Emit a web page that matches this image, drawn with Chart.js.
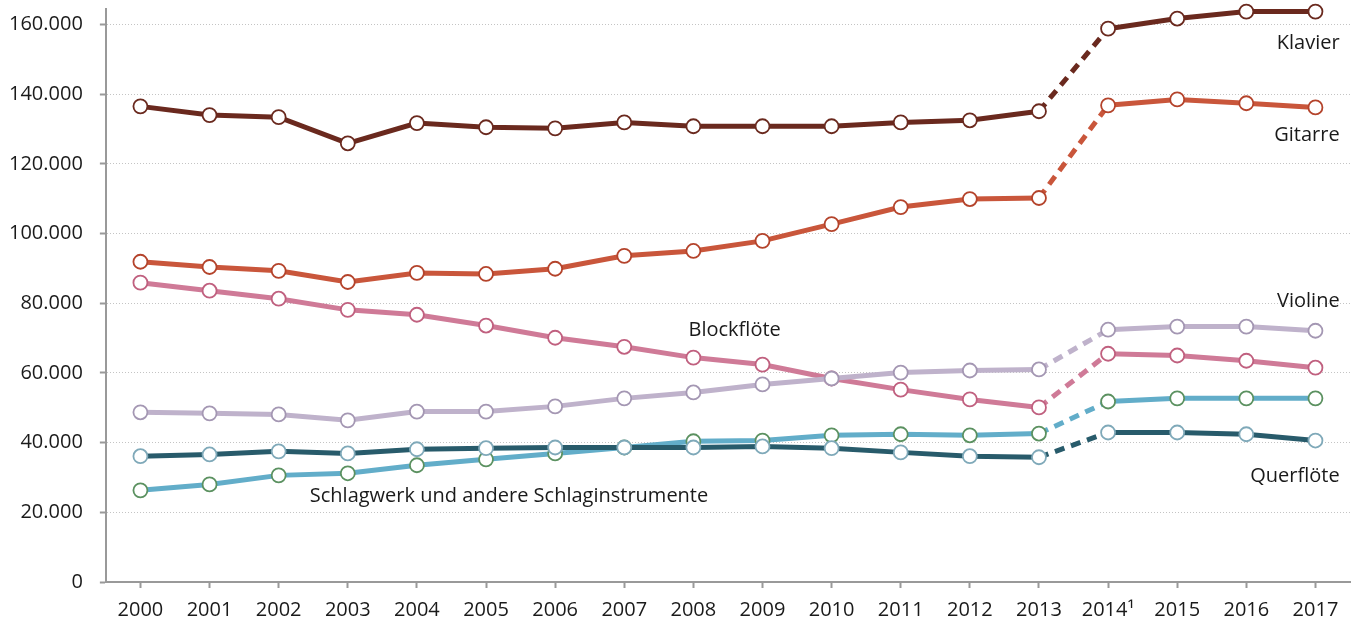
<!DOCTYPE html>
<html>
<head>
<meta charset="utf-8">
<script src="https://cdn.jsdelivr.net/npm/chart.js@4.4.1/dist/chart.umd.min.js"></script>
<style>
  html, body { margin: 0; padding: 0; background: #fff; }
  #wrap { width: 1362px; height: 623px; }
</style>
</head>
<body>
<div id="wrap"><canvas id="chartCanvas" width="1362" height="623"></canvas></div>
<script>
const years = ["2000", "2001", "2002", "2003", "2004", "2005", "2006", "2007", "2008",
    "2009", "2010", "2011", "2012", "2013", "2014\u00b9", "2015", "2016", "2017"];

const klavier = [136500, 134000, 133400, 125900, 131700, 130500, 130200, 131900, 130800,
    130800, 130800, 131900, 132500, 135100, 158800, 161700, 163700, 163700];
const gitarre = [91900, 90400, 89300, 86100, 88700, 88400, 89900, 93600, 95000,
    97900, 102700, 107600, 109900, 110200, 136800, 138500, 137400, 136200];
const blockfloete = [85900, 83600, 81300, 78100, 76700, 73600, 70100, 67500, 64400,
    62400, 58400, 55200, 52400, 50100, 65500, 65000, 63500, 61500];
const violine = [48700, 48400, 48100, 46400, 48900, 48900, 50400, 52700, 54400,
    56700, 58400, 60100, 60700, 61000, 72400, 73300, 73300, 72100];
const querfloete = [36100, 36600, 37500, 36900, 38100, 38400, 38600, 38600, 38600,
    38900, 38400, 37200, 36100, 35800, 42900, 42900, 42400, 40600];
const schlagwerk = [26300, 28000, 30600, 31200, 33500, 35200, 36900, 38600, 40400,
    40600, 42100, 42400, 42100, 42600, 51800, 52700, 52700, 52700];

const yTicks = [0, 20000, 40000, 60000, 80000, 100000, 120000, 140000, 160000];

// series labels: text, x (category index), y (value), alignment
const seriesLabels = [
    { text: "Klavier", x: 17.35, y: 154500, align: "right" },
    { text: "Gitarre", x: 17.35, y: 128200, align: "right" },
    { text: "Violine", x: 17.35, y: 80700, align: "right" },
    { text: "Blockflöte", x: 7.93, y: 72100, align: "left" },
    { text: "Querflöte", x: 17.35, y: 30300, align: "right" },
    { text: "Schlagwerk und andere Schlaginstrumente", x: 2.45, y: 24600, align: "left" }
];

const FONT = "'Open Sans', 'DejaVu Sans', sans-serif";
const BREAK = 13; // segment 2013 -> 2014 is dashed

function series(data, color, pointColor) {
    return {
        data: data,
        borderColor: color,
        borderWidth: 5,
        pointRadius: 7,
        pointHoverRadius: 7,
        pointBackgroundColor: "#fff",
        pointBorderColor: pointColor || color,
        pointBorderWidth: 1.8,
        tension: 0,
        fill: false,
        clip: false,
        segment: {
            borderDash: c => c.p0DataIndex === BREAK ? [10, 7] : undefined
        }
    };
}

const labelPlugin = {
    id: "seriesLabels",
    afterDatasetsDraw(chart) {
        const c = chart.ctx;
        const xs = chart.scales.x, ys = chart.scales.y;
        const step = xs.getPixelForValue(1) - xs.getPixelForValue(0);
        c.save();
        c.font = "20px " + FONT;
        c.fillStyle = "#1a1a1a";
        c.textBaseline = "middle";
        seriesLabels.forEach(l => {
            const px = xs.getPixelForValue(0) + l.x * step;
            c.textAlign = l.align;
            c.fillText(l.text, px, ys.getPixelForValue(l.y));
        });
        c.restore();
    }
};

const ctx = document.getElementById("chartCanvas").getContext("2d");
new Chart(ctx, {
    type: "line",
    data: {
        labels: years,
        datasets: [
            series(querfloete, "#285b6b", "#7fa9b9"),
            series(schlagwerk, "#62adc9", "#5b9160"),
            series(violine, "#bfb2cb", "#a497b3"),
            series(blockfloete, "#cf7a97", "#c0607f"),
            series(gitarre, "#c9563b", "#b4432b"),
            series(klavier, "#6a291e")
        ]
    },
    options: {
        responsive: false,
        animation: false,
        layout: { padding: { left: -8, right: 12, top: 7, bottom: 0 } },
        plugins: {
            legend: { display: false },
            tooltip: { enabled: false }
        },
        scales: {
            x: {
                offset: true,
                afterFit: s => { s.height = 41; s.paddingLeft = 0; s.paddingRight = 0; },
                grid: {
                    drawOnChartArea: false,
                    drawTicks: true,
                    tickLength: 6,
                    tickColor: "#999",
                    tickWidth: 2
                },
                border: { color: "#999", width: 2 },
                ticks: {
                    color: "#1a1a1a",
                    font: { size: 20, family: FONT },
                    padding: 10,
                    maxRotation: 0,
                    autoSkip: false
                }
            },
            y: {
                min: 0,
                max: 164500,
                afterFit: s => { s.paddingTop = 0; s.paddingBottom = 0; },
                afterBuildTicks: axis => {
                    axis.ticks = yTicks.map(v => ({ value: v }));
                },
                grid: {
                    color: "#c4c4c4",
                    lineWidth: 1,
                    tickBorderDash: [],
                    tickColor: "#999",
                    tickWidth: 2,
                    tickLength: 6
                },
                border: { color: "#999", width: 2, dash: [1, 2] },
                ticks: {
                    color: "#1a1a1a",
                    font: { size: 20, family: FONT },
                    padding: 17,
                    callback: v => v.toLocaleString("de-DE")
                }
            }
        }
    },
    plugins: [labelPlugin]
});
</script>
</body>
</html>
